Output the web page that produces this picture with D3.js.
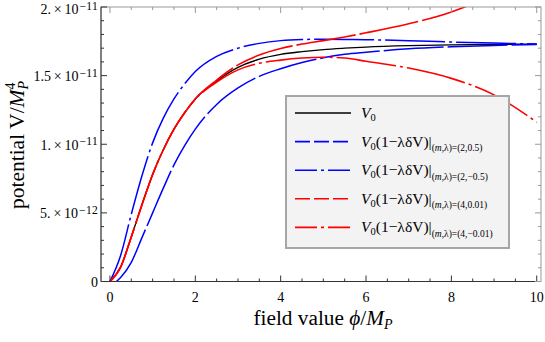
<!DOCTYPE html>
<html>
<head>
<meta charset="utf-8">
<script src="https://cdn.jsdelivr.net/npm/d3@7"></script>
<style>
  body { margin: 0; background: #fff; }
  svg { display: block; }
  text { font-family: "Liberation Serif", "Times New Roman", serif; fill: #000; }
</style>
</head>
<body>
<div id="chart"></div>
<script>
// field value phi / M_P
const phi = [0, 0.25, 0.5, 0.75, 1, 1.25, 1.5, 1.75, 2, 2.5, 3, 3.5, 4, 4.5, 5, 5.5, 6, 7, 8, 9, 10]
const phiLow = [0.15, 0.25, 0.5, 0.75, 1, 1.25, 1.5, 1.75, 2, 2.5, 3, 3.5, 4, 4.5, 5, 5.5, 6, 7, 8, 9, 10]

// potential values in units of 1e-12
const v0 = [0, 1.05, 3.25, 5.6, 7.8, 9.6, 11.1, 12.3, 13.3, 14.6, 15.6, 16.2, 16.55, 16.75, 16.9, 17.0, 17.08, 17.18, 17.24, 17.28, 17.3]
const vBlueDash = [0, 0.3, 1.4, 3.2, 5.0, 6.8, 8.5, 9.9, 11.1, 12.9, 14.1, 14.95, 15.5, 15.95, 16.3, 16.55, 16.7, 16.95, 17.1, 17.2, 17.27]
const vBlueDot = [0, 1.9, 4.9, 7.7, 10.1, 11.9, 13.3, 14.4, 15.3, 16.4, 17.0, 17.35, 17.55, 17.63, 17.65, 17.64, 17.62, 17.55, 17.45, 17.37, 17.3]
const vRedDash = [0, 1.05, 3.25, 5.6, 7.8, 9.6, 11.1, 12.3, 13.32, 14.68, 15.78, 16.5, 16.97, 17.3, 17.55, 17.82, 18.12, 18.78, 19.64, 20.98, 23.0]
const vRedDot = [0, 1.05, 3.25, 5.6, 7.8, 9.6, 11.1, 12.3, 13.28, 14.52, 15.42, 15.9, 16.13, 16.28, 16.34, 16.28, 16.05, 15.55, 14.8, 13.6, 11.6]

const xTicks = [0, 2, 4, 6, 8, 10]
const yTicks = [0, 5, 10, 15, 20]
const yMant = ["0", "5.", "1.", "1.5", "2."]
const yExp = ["", "−12", "−11", "−11", "−11"]

const seriesLabels = ["(2,0.5)", "(2,−0.5)", "(4,0.01)", "(4,−0.01)"]

const width = 545, height = 342
const svg = d3.select("#chart").append("svg").attr("width", width).attr("height", height)

const x = d3.scaleLinear().domain([-0.21, 10.1]).range([101, 541])
const y = d3.scaleLinear().domain([0, 20]).range([281.5, 7])

// clip
svg.append("clipPath").attr("id", "clip")
    .append("rect").attr("x", 101).attr("y", 7).attr("width", 440).attr("height", 274.5)

const series = [
    { xs: phi, vs: v0, color: "#000", dash: null, w: 1.3 },
    { xs: phiLow, vs: vBlueDash, color: "#0000ff", dash: "60,4", w: 1.5 },
    { xs: phi, vs: vBlueDot, color: "#0000ff", dash: "60,4,3,4", w: 1.5 },
    { xs: phi, vs: vRedDash, color: "#ff0000", dash: "60,4", w: 1.6 },
    { xs: phi, vs: vRedDot, color: "#ff0000", dash: "60,4,3,4", w: 1.6 },
]

const line = d3.line().curve(d3.curveMonotoneX)
const g = svg.append("g").attr("clip-path", "url(#clip)")
series.forEach(s => {
    g.append("path")
        .attr("d", line(s.xs.map((p, i) => [x(p), y(s.vs[i])])))
        .attr("fill", "none")
        .attr("stroke", s.color)
        .attr("stroke-width", s.w)
        .attr("stroke-dasharray", s.dash)
})

// frame
const x0 = 101, x1 = 541, y0 = 281.5, y1 = 7
svg.append("rect").attr("x", x0).attr("y", y1).attr("width", x1 - x0).attr("height", y0 - y1)
    .attr("fill", "none").attr("stroke", "#999").attr("stroke-width", 1)
svg.append("line").attr("x1", x0).attr("x2", x1).attr("y1", y0).attr("y2", y0).attr("stroke", "#333")
svg.append("line").attr("x1", x0).attr("x2", x0).attr("y1", y0).attr("y2", y1).attr("stroke", "#333")

// x ticks (bottom & top)
const xMinor = d3.range(0, 10.01, 0.5)
xMinor.forEach(t => {
    const major = Math.abs(t % 2) < 1e-9
    const len = major ? 6 : 3
    svg.append("line").attr("x1", x(t)).attr("x2", x(t)).attr("y1", y0).attr("y2", y0 - len).attr("stroke", "#333")
    svg.append("line").attr("x1", x(t)).attr("x2", x(t)).attr("y1", y1).attr("y2", y1 + len).attr("stroke", "#999")
})
svg.selectAll(".xl").data(xTicks).join("text")
    .attr("x", d => x(d)).attr("y", 301.5).attr("text-anchor", "middle")
    .attr("font-size", 14).text(d => d)

// y ticks (left & right)
const yMinor = d3.range(0, 20.01, 1)
yMinor.forEach(t => {
    const major = t % 5 === 0
    const len = major ? 6 : 3
    svg.append("line").attr("x1", x0).attr("x2", x0 + len).attr("y1", y(t)).attr("y2", y(t)).attr("stroke", "#333")
    svg.append("line").attr("x1", x1).attr("x2", x1 - len).attr("y1", y(t)).attr("y2", y(t)).attr("stroke", "#999")
})
yTicks.forEach((t, i) => {
    const tx = svg.append("text").attr("x", 98).attr("y", y(t) + (i === 4 ? 7 : 5.5))
        .attr("text-anchor", "end").attr("font-size", 14)
    if (yExp[i] === "") {
        tx.text(yMant[i])
    } else {
        tx.append("tspan").text(yMant[i] + "\u2009×\u200910")
        tx.append("tspan").attr("dx", 1).attr("dy", -4.5).attr("font-size", 11.5)
            .attr("letter-spacing", 0.3).text(yExp[i])
    }
})

// axis titles
const xt = svg.append("text").attr("x", 323).attr("y", 325).attr("text-anchor", "middle").attr("font-size", 21.3)
xt.append("tspan").text("field value ")
xt.append("tspan").attr("font-style", "italic").text("ϕ")
xt.append("tspan").text("/")
xt.append("tspan").attr("font-style", "italic").text("M")
xt.append("tspan").attr("font-style", "italic").attr("font-size", 14).attr("dy", 4).text("P")

const yt = svg.append("text").attr("transform", "translate(24,145) rotate(-90)")
    .attr("text-anchor", "middle").attr("font-size", 21.5)
yt.append("tspan").text("potential V/")
yt.append("tspan").attr("font-style", "italic").text("M")
yt.append("tspan").attr("font-style", "italic").attr("font-size", 14).attr("dy", 4).text("P")
yt.append("tspan").attr("font-size", 14).attr("dx", -8.5).attr("dy", -13).text("4")

// legend
const lg = svg.append("g")
lg.append("rect").attr("x", 286).attr("y", 96).attr("width", 223).attr("height", 152)
    .attr("fill", "#f3f3f3").attr("stroke", "#a6a6a6").attr("stroke-width", 2)

const legendDash = [null, "15,4", "22,4,3,4", "15,4", "22,4,3,4"]
series.forEach((s, i) => {
    const cy = 113 + i * 28.6
    lg.append("line").attr("x1", 295).attr("x2", 351).attr("y1", cy).attr("y2", cy)
        .attr("stroke", s.color).attr("stroke-width", i === 0 ? 1.3 : 1.6)
        .attr("stroke-dasharray", legendDash[i])
    const t = lg.append("text").attr("x", 361).attr("y", cy + 5).attr("font-size", 15.5)
    t.append("tspan").attr("font-style", "italic").text("V")
    t.append("tspan").attr("font-size", 10.5).attr("dy", 3).text("0")
    if (i > 0) {
        t.append("tspan").attr("dy", -3).text("(1−λδV)|")
        t.append("tspan").attr("font-size", 9.5).attr("dy", 4.5).text("(")
        t.append("tspan").attr("font-size", 9.5).attr("font-style", "italic").text("m")
        t.append("tspan").attr("font-size", 9.5).text(",λ)=" + seriesLabels[i - 1])
    }
})
</script>
</body>
</html>
